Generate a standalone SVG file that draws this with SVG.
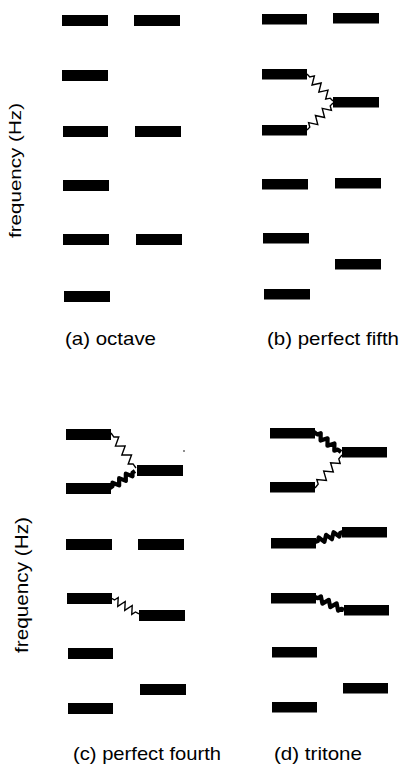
<svg xmlns="http://www.w3.org/2000/svg" width="402" height="766" viewBox="0 0 402 766">
  <style>
    .bar { fill: #000; }
    .lbl { font-family: "Liberation Sans", Arial, Helvetica, sans-serif; font-size: 19px; fill: #000; }
    .axis { font-family: "Liberation Sans", Arial, Helvetica, sans-serif; fill: #000; }
    .thin { fill: none; stroke: #000; stroke-width: 1.4; stroke-linejoin: miter; stroke-linecap: butt; }
    .thick { fill: none; stroke: #000; stroke-width: 4.2; stroke-linejoin: round; stroke-linecap: butt; }
  </style>

  <rect width="402" height="766" fill="#fff"/>

  <!-- (a) octave -->
  <g id="panel-a">
    <text class="axis" font-size="17" text-anchor="middle" textLength="135" lengthAdjust="spacingAndGlyphs" transform="translate(20.5,170.5) rotate(-90)">frequency (Hz)</text>
    <g id="a-left">
      <rect class="bar" x="62" y="15" width="46" height="11"/>
      <rect class="bar" x="62" y="70" width="46" height="11"/>
      <rect class="bar" x="63" y="126" width="45" height="11"/>
      <rect class="bar" x="63" y="180" width="46" height="11"/>
      <rect class="bar" x="63" y="234" width="46" height="11"/>
      <rect class="bar" x="64" y="291" width="46" height="11"/>
    </g>
    <g id="a-right">
      <rect class="bar" x="134" y="15" width="46" height="11"/>
      <rect class="bar" x="135" y="126" width="46" height="11"/>
      <rect class="bar" x="136" y="234" width="46" height="11"/>
    </g>
    <text class="lbl" x="65" y="345" textLength="91" lengthAdjust="spacingAndGlyphs">(a) octave</text>
  </g>

  <!-- (b) perfect fifth -->
  <g id="panel-b">
    <g id="b-left">
      <rect class="bar" x="262" y="14" width="45" height="10.5"/>
      <rect class="bar" x="262" y="69" width="45" height="10.5"/>
      <rect class="bar" x="262" y="125" width="45" height="10.5"/>
      <rect class="bar" x="262" y="179" width="46" height="10.5"/>
      <rect class="bar" x="263" y="233" width="46" height="10.5"/>
      <rect class="bar" x="264" y="289" width="46" height="10.5"/>
    </g>
    <g id="b-right">
      <rect class="bar" x="333" y="13" width="46" height="10.5"/>
      <rect class="bar" x="333" y="97" width="46" height="10.5"/>
      <rect class="bar" x="335" y="178" width="46" height="10.5"/>
      <rect class="bar" x="335" y="259" width="46" height="10.5"/>
    </g>
    <text class="lbl" x="267" y="345" textLength="132" lengthAdjust="spacingAndGlyphs">(b) perfect fifth</text>
  </g>

  <!-- (c) perfect fourth -->
  <g id="panel-c">
    <text class="axis" font-size="19" text-anchor="middle" textLength="136" lengthAdjust="spacingAndGlyphs" transform="translate(27.5,585) rotate(-90)">frequency (Hz)</text>
    <g id="c-left">
      <rect class="bar" x="66" y="429" width="45" height="11"/>
      <rect class="bar" x="66" y="483" width="45" height="11"/>
      <rect class="bar" x="66" y="539" width="46" height="11"/>
      <rect class="bar" x="67" y="593" width="45" height="11"/>
      <rect class="bar" x="68" y="648" width="45" height="11"/>
      <rect class="bar" x="68" y="703" width="45" height="11"/>
    </g>
    <g id="c-right">
      <rect class="bar" x="137" y="465" width="46" height="11"/>
      <rect class="bar" x="138" y="539" width="46" height="11"/>
      <rect class="bar" x="139" y="610" width="46" height="11"/>
      <rect class="bar" x="140" y="684" width="46" height="11"/>
    </g>
    <circle cx="184" cy="451" r="0.8" fill="#000"/>
    <text class="lbl" x="73" y="760" textLength="148" lengthAdjust="spacingAndGlyphs">(c) perfect fourth</text>
  </g>

  <!-- (d) tritone -->
  <g id="panel-d">
    <g id="d-left">
      <rect class="bar" x="270" y="428" width="45" height="10.5"/>
      <rect class="bar" x="270" y="482" width="45" height="10.5"/>
      <rect class="bar" x="271" y="538" width="45" height="10.5"/>
      <rect class="bar" x="271" y="593" width="45" height="10.5"/>
      <rect class="bar" x="272" y="647" width="45" height="10.5"/>
      <rect class="bar" x="272" y="702" width="45" height="10.5"/>
    </g>
    <g id="d-right">
      <rect class="bar" x="342" y="447" width="45" height="10.5"/>
      <rect class="bar" x="342" y="527" width="45" height="10.5"/>
      <rect class="bar" x="344" y="605" width="45" height="10.5"/>
      <rect class="bar" x="343" y="683" width="45" height="10.5"/>
    </g>
    <text class="lbl" x="274" y="760" textLength="88" lengthAdjust="spacingAndGlyphs">(d) tritone</text>
  </g>

  <!-- coupling springs between partials -->
  <g id="springs">
    <path class="thin" transform="translate(307,74) rotate(46.1)" d="M0,0h4l2.46,-4l4.92,8l4.92,-8l4.92,8l4.92,-8l4.92,8l2.46,-4h4"/>
    <path class="thin" transform="translate(307,130) rotate(-46.1)" d="M0,0h4l2.46,-4l4.92,8l4.92,-8l4.92,8l4.92,-8l4.92,8l2.46,-4h4"/>

    <path class="thin" transform="translate(111,433) rotate(54.5)" d="M0,0h5l2.75,-4l5.5,8l5.5,-8l5.5,8l5.5,-8l5.5,8l2.75,-4h5"/>
    <path class="thick" transform="translate(110,488) rotate(-34.2)" d="M0,0h3l2.02,-3l4.03,6l4.03,-6l4.03,6l4.03,-6l4.03,6l2.02,-3h3"/>
    <path class="thin" transform="translate(111,598) rotate(29.7)" d="M0,0h4l2.02,-4l4.03,8l4.03,-8l4.03,8l4.03,-8l4.03,8l2.02,-4h4"/>

    <path class="thick" transform="translate(314,432) rotate(36.5)" d="M0,0h4l2.13,-3l4.27,6l4.27,-6l4.27,6l4.27,-6l4.27,6l2.13,-3h4"/>
    <path class="thin" transform="translate(315,488) rotate(-50.7)" d="M0,0h5l2.72,-4l5.43,8l5.43,-8l5.43,8l5.43,-8l5.43,8l2.72,-4h5"/>
    <path class="thick" transform="translate(315,542) rotate(-19.6)" d="M0,0h3l1.98,-3l3.95,6l3.95,-6l3.95,6l3.95,-6l3.95,6l1.98,-3h3"/>
    <path class="thick" transform="translate(315,597) rotate(24.1)" d="M0,0h3l2.15,-3l4.3,6l4.3,-6l4.3,6l4.3,-6l4.3,6l2.15,-3h3"/>
  </g>
</svg>
